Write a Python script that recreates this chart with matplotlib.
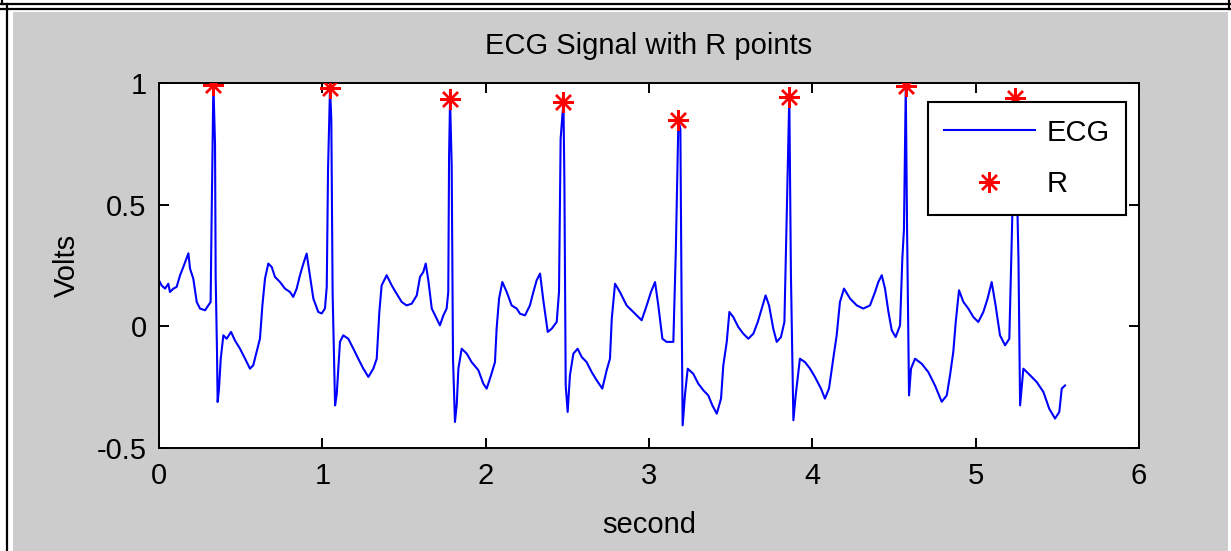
import matplotlib
matplotlib.use("Agg")
import matplotlib.pyplot as plt
from matplotlib.patches import Rectangle
from matplotlib.lines import Line2D

# ECG trace (seconds, volts)
ecg_time = [
    0.000, 0.016, 0.037, 0.057, 0.067, 0.088, 0.108, 0.129, 0.149, 0.180,
    0.190, 0.210, 0.231, 0.251, 0.282, 0.302, 0.316, 0.322, 0.333, 0.343,
    0.347, 0.355, 0.359, 0.367, 0.378, 0.394, 0.414, 0.441, 0.465, 0.496,
    0.527, 0.557, 0.577, 0.598, 0.618, 0.633, 0.649, 0.669, 0.690, 0.710,
    0.741, 0.771, 0.802, 0.822, 0.843, 0.863, 0.884, 0.904, 0.924, 0.945,
    0.975, 0.996, 1.016, 1.027, 1.035, 1.047, 1.055, 1.063, 1.078,
    1.088, 1.108, 1.128, 1.159, 1.190, 1.220, 1.251, 1.282, 1.312, 1.333,
    1.349, 1.363, 1.394, 1.425, 1.455, 1.486, 1.516, 1.547, 1.578, 1.598,
    1.618, 1.633, 1.649, 1.670, 1.700, 1.720, 1.741, 1.761, 1.771, 1.776,
    1.782, 1.792, 1.800, 1.812, 1.823, 1.833,
    1.853, 1.884, 1.914, 1.955, 1.986, 2.006, 2.033, 2.057, 2.067, 2.082,
    2.102, 2.129, 2.159, 2.190, 2.210, 2.241, 2.271, 2.292, 2.312, 2.333,
    2.353, 2.380, 2.404, 2.435, 2.449, 2.459, 2.476, 2.482, 2.490, 2.502,
    2.516,
    2.537, 2.563, 2.588, 2.618, 2.649, 2.680, 2.714, 2.741, 2.761, 2.772,
    2.792, 2.822, 2.863, 2.904, 2.955, 2.986, 3.012, 3.037, 3.057, 3.082,
    3.108, 3.149, 3.164, 3.180, 3.192, 3.200, 3.206, 3.220, 3.237, 3.271,
    3.302,
    3.333, 3.363, 3.388, 3.415, 3.441, 3.455, 3.476, 3.492, 3.516, 3.547,
    3.577, 3.608, 3.639, 3.666, 3.690, 3.714, 3.735, 3.761, 3.782, 3.808,
    3.829, 3.843, 3.859, 3.869, 3.884, 3.898, 3.924, 3.955, 3.986, 4.016,
    4.053, 4.077, 4.102, 4.128, 4.149, 4.169, 4.194, 4.231, 4.272, 4.312,
    4.353, 4.384,
    4.404, 4.425, 4.445, 4.466, 4.486, 4.510, 4.537, 4.551, 4.561, 4.572,
    4.580, 4.592, 4.604, 4.629, 4.670, 4.710, 4.751, 4.792, 4.823, 4.843,
    4.863, 4.878, 4.898, 4.925, 4.955, 4.986, 5.016, 5.047, 5.073, 5.098,
    5.122, 5.149, 5.180, 5.206, 5.221, 5.241, 5.262, 5.272, 5.292, 5.333,
    5.374, 5.415, 5.450, 5.486, 5.512, 5.527, 5.547,
]
ecg_volts = [
    0.189, 0.168, 0.155, 0.175, 0.141, 0.155, 0.162, 0.210, 0.244, 0.300,
    0.237, 0.196, 0.100, 0.073, 0.066, 0.086, 0.100, 0.436, 0.993, 0.750,
    0.200, -0.100, -0.311, -0.260, -0.133, -0.037, -0.051, -0.023, -0.058, -0.092,
    -0.133, -0.174, -0.160, -0.105, -0.051, 0.086, 0.196, 0.258, 0.244, 0.203,
    0.182, 0.155, 0.141, 0.121, 0.155, 0.210, 0.258, 0.299, 0.210, 0.114,
    0.059, 0.053, 0.073, 0.162, 0.648, 0.980, 0.850, 0.134, -0.325,
    -0.280, -0.064, -0.037, -0.051, -0.092, -0.133, -0.174, -0.208, -0.174, -0.133,
    0.059, 0.168, 0.210, 0.168, 0.134, 0.100, 0.086, 0.093, 0.127, 0.203,
    0.223, 0.258, 0.189, 0.073, 0.032, 0.004, 0.045, 0.073, 0.141, 0.703,
    0.933, 0.662, -0.133, -0.393, -0.320, -0.174,
    -0.092, -0.112, -0.147, -0.180, -0.236, -0.256, -0.201, -0.147, -0.010, 0.114,
    0.182, 0.141, 0.086, 0.073, 0.052, 0.045, 0.086, 0.141, 0.189, 0.217,
    0.107, -0.023, -0.010, 0.018, 0.141, 0.771, 0.922, 0.600, -0.243, -0.352,
    -0.201,
    -0.112, -0.092, -0.126, -0.147, -0.188, -0.222, -0.256, -0.180, -0.133, 0.031,
    0.175, 0.141, 0.086, 0.059, 0.025, 0.086, 0.141, 0.182, 0.086, -0.051,
    -0.064, -0.064, 0.306, 0.847, 0.812, 0.059, -0.407, -0.284, -0.174, -0.195,
    -0.236,
    -0.263, -0.284, -0.325, -0.359, -0.297, -0.160, -0.064, 0.059, 0.038, -0.003,
    -0.030, -0.051, -0.030, 0.018, 0.073, 0.127, 0.086, -0.010, -0.064, -0.044,
    0.018, 0.443, 0.943, 0.210, -0.386, -0.284, -0.133, -0.147, -0.174, -0.208,
    -0.256, -0.297, -0.256, -0.133, -0.037, 0.100, 0.155, 0.114, 0.086, 0.073,
    0.086, 0.141,
    0.182, 0.210, 0.155, 0.059, -0.016, -0.044, 0.004, 0.278, 0.400, 0.988,
    0.400, -0.284, -0.174, -0.133, -0.154, -0.188, -0.243, -0.310, -0.284, -0.201,
    -0.105, 0.018, 0.148, 0.100, 0.073, 0.038, 0.018, 0.059, 0.114, 0.182,
    0.086, -0.037, -0.078, -0.051, 0.360, 0.937, 0.278, -0.325, -0.174, -0.201,
    -0.229, -0.270, -0.338, -0.379, -0.352, -0.256, -0.243,
]

# Detected R peaks
r_time = [0.333, 1.047, 1.782, 2.476, 3.180, 3.859, 4.572, 5.241]
r_volts = [0.993, 0.980, 0.933, 0.922, 0.847, 0.943, 0.988, 0.937]

x_ticks = [0, 1, 2, 3, 4, 5, 6]
y_ticks = [-0.5, 0, 0.5, 1]
y_tick_labels = ["-0.5", "0", "0.5", "1"]

assert len(ecg_time) == len(ecg_volts)

plt.rcParams["font.family"] = ["Liberation Sans", "DejaVu Sans"]
fs = 21

W, H = 1231, 551
fig = plt.figure(figsize=(W / 100, H / 100), dpi=100)
fig.patch.set_facecolor("white")


def fx(px):
    return px / W


def fy(py):
    return 1 - py / H


# grey figure panel
fig.patches.append(Rectangle((fx(13), 0), fx(1228 - 13), fy(12), transform=fig.transFigure,
                             facecolor="#cccccc", edgecolor="none", zorder=-10))
# surrounding table rules
for yy in (3.5, 8.5):
    fig.lines.append(Line2D([0, 1], [fy(yy), fy(yy)], transform=fig.transFigure,
                            color="black", lw=1.6))
fig.lines.append(Line2D([fx(7), fx(7)], [fy(3.5), 0], transform=fig.transFigure,
                        color="black", lw=1.6))
fig.lines.append(Line2D([fx(1.5), fx(1.5)], [1, fy(3.5)], transform=fig.transFigure,
                        color="black", lw=1.6))
fig.lines.append(Line2D([fx(1229), fx(1229)], [1, fy(8.5)], transform=fig.transFigure,
                        color="black", lw=1.6))

ax = fig.add_axes([fx(159), fy(448), fx(1139 - 159), (448 - 83) / H])
ax.set_facecolor("white")

ax.plot(ecg_time, ecg_volts, color="#0000ff", lw=1.5, label="ECG")
ax.plot(r_time, r_volts, linestyle="none", marker=(8, 2, 0), markersize=15,
        markeredgewidth=1.7, color="#ff0000", label="R", zorder=3)

ax.set_xlim(0, 6)
ax.set_ylim(-0.5, 1)
ax.set_xticks(x_ticks)
ax.set_yticks(y_ticks)
ax.set_yticklabels(y_tick_labels)
ax.tick_params(direction="in", length=7, width=1.4, top=True, right=True,
               labelsize=fs, colors="black")
ax.tick_params(axis="x", pad=10)
ax.tick_params(axis="y", pad=9)
for s in ax.spines.values():
    s.set_linewidth(1.4)
    s.set_color("black")

ax.set_title("ECG Signal with R points", fontsize=fs, pad=21)
ax.set_xlabel("second", fontsize=fs, labelpad=15)
ax.set_ylabel("Volts", fontsize=fs, labelpad=11)

leg = ax.legend(loc="upper right", bbox_to_anchor=(fx(1126), fy(102)),
                bbox_transform=fig.transFigure, fontsize=fs, frameon=True,
                fancybox=False, framealpha=1, edgecolor="black",
                handlelength=3.1, handletextpad=0.4, borderpad=0.57,
                labelspacing=0.8, borderaxespad=0)
leg.get_frame().set_linewidth(1.5)

fig.savefig("out.png", dpi=100, facecolor=fig.get_facecolor())
